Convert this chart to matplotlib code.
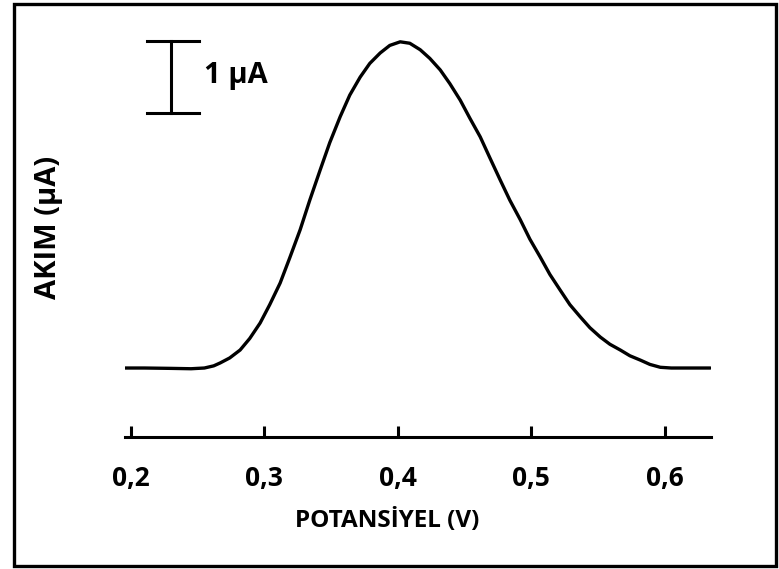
import matplotlib.pyplot as plt
from matplotlib.patches import Rectangle

# Voltammogram (potential in V, current in uA above baseline)
potential = [0.1955, 0.210, 0.230, 0.245, 0.255, 0.262, 0.2668, 0.274, 0.2818, 0.289,
             0.2968, 0.304, 0.3118, 0.319, 0.3268, 0.334, 0.3418, 0.349, 0.3568, 0.364,
             0.3718, 0.379, 0.3868, 0.394, 0.4018, 0.409, 0.4168, 0.424, 0.4318, 0.439,
             0.4468, 0.454, 0.4618, 0.469, 0.4768, 0.484, 0.4918, 0.499, 0.5068, 0.514,
             0.5218, 0.529, 0.5368, 0.544, 0.5518, 0.559, 0.5668, 0.574, 0.5818, 0.589,
             0.5968, 0.605, 0.6343]
current = [0.0, 0.0, -0.005, -0.01, 0.0, 0.03, 0.07, 0.14, 0.25, 0.41,
           0.625, 0.88, 1.18, 1.53, 1.92, 2.33, 2.75, 3.13, 3.49, 3.79,
           4.04, 4.23, 4.375, 4.48, 4.53, 4.51, 4.42, 4.30, 4.14, 3.95,
           3.72, 3.47, 3.21, 2.92, 2.61, 2.33, 2.06, 1.79, 1.54, 1.30,
           1.08, 0.88, 0.71, 0.56, 0.43, 0.33, 0.25, 0.17, 0.11, 0.05,
           0.01, 0.0, 0.0]

xticks = [0.2, 0.3, 0.4, 0.5, 0.6]
xtick_labels = ['0,2', '0,3', '0,4', '0,5', '0,6']

W, H = 779, 569
fig = plt.figure(figsize=(W / 100, H / 100), dpi=100)
plt.rcParams['font.family'] = ['Open Sans', 'DejaVu Sans']

# axes box in pixels: x 125..711, y 20..437 (from top)
ax = fig.add_axes([125 / W, (H - 437) / H, (711 - 125) / W, (437 - 20) / H])
ax.set_xlim(0.1955, 0.6348)
ax.set_ylim(-0.958, 4.833)

ax.plot(potential, current, color='black', linewidth=2.4,
        solid_capstyle='round', solid_joinstyle='round')

# 1 uA scale bar
ax.plot([0.230, 0.230], [3.54, 4.54], color='black', linewidth=2.2)
ax.plot([0.212, 0.251], [4.54, 4.54], color='black', linewidth=2.2)
ax.plot([0.212, 0.251], [3.54, 3.54], color='black', linewidth=2.2)
ax.text(0.2545, 4.06, '1 µA', fontsize=21, fontweight='bold', va='center', ha='left')

for side in ['left', 'top', 'right']:
    ax.spines[side].set_visible(False)
ax.spines['bottom'].set_linewidth(2.2)
ax.set_yticks([])
ax.set_xticks(xticks)
ax.set_xticklabels(xtick_labels, fontsize=19, fontweight='bold')
ax.tick_params(axis='x', direction='in', length=8, width=2.2, pad=20)

fig.text(387 / W, 1 - 521 / H, 'POTANSİYEL (V)', fontsize=17.5, fontweight='bold',
         ha='center', va='center')
fig.text(48.5 / W, 1 - 227 / H, 'AKIM (µA)', fontsize=21, fontweight='bold',
         ha='center', va='center', rotation=90)

# frame around the whole figure
fig.patches.append(Rectangle((13.5 / W, 3.5 / H), (776 - 13.5) / W, (565.5 - 3.5) / H,
                             transform=fig.transFigure, fill=False,
                             edgecolor='black', linewidth=2.4))

fig.savefig('out.png', dpi=100)
